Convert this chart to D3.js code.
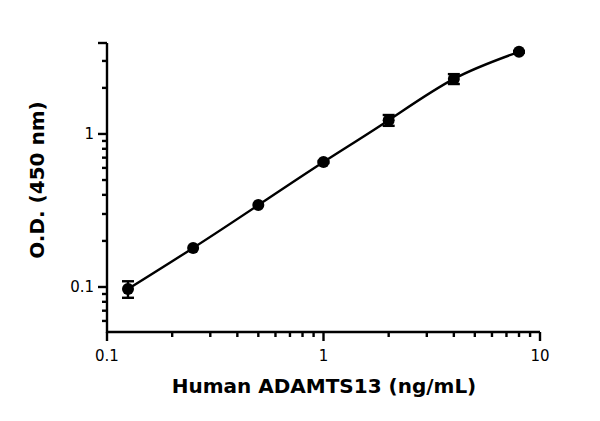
<!DOCTYPE html><html><head><script src="https://cdn.jsdelivr.net/npm/d3@7"></script>
<style>body{margin:0;background:#fff}</style></head><body><svg id="c" width="600" height="421"></svg>
<script>
const conc=[0.125,0.25,0.5,1,2,4,8];
const od=[0.097,0.18,0.343,0.656,1.23,2.29,3.44];
const err=[0.012,0.004,0.006,0.01,0.1,0.17,0.04];
const xTickLabels=[0.1,1,10];
const yTickLabels=[0.1,1];
const svg=d3.select("#c");
const x=d3.scaleLog().domain([0.1,10]).range([107,540]);
const y=d3.scaleLog().domain([0.0508,3.93]).range([332,43]);
const g=svg.append("g").attr("stroke","#000").attr("stroke-width",2.4);
g.append("line").attr("x1",x(0.1)).attr("x2",x(10)).attr("y1",332).attr("y2",332);
g.append("line").attr("x1",107).attr("x2",107).attr("y1",333).attr("y2",43);
const xMinor=[];for(const d of [0.1,1])for(let k=2;k<=9;k++)xMinor.push(d*k);
xMinor.forEach(v=>g.append("line").attr("x1",x(v)).attr("x2",x(v)).attr("y1",332).attr("y2",337));
xTickLabels.forEach(v=>g.append("line").attr("x1",x(v)).attr("x2",x(v)).attr("y1",332).attr("y2",341));
const yMinor=[0.06,0.07,0.08,0.09,0.2,0.3,0.4,0.5,0.6,0.7,0.8,0.9,2,3];
yMinor.forEach(v=>g.append("line").attr("x1",107).attr("x2",102).attr("y1",y(v)).attr("y2",y(v)));
yTickLabels.concat([3.93]).forEach(v=>g.append("line").attr("x1",107).attr("x2",98).attr("y1",y(v)).attr("y2",y(v)));
const fmt=d=>String(d);
xTickLabels.forEach(v=>svg.append("text").attr("x",x(v)).attr("y",361).attr("text-anchor","middle").attr("font-family","DejaVu Sans").attr("font-size",15).text(fmt(v)));
yTickLabels.forEach(v=>svg.append("text").attr("x",94).attr("y",y(v)+5).attr("text-anchor","end").attr("font-family","DejaVu Sans").attr("font-size",15).text(fmt(v)));
svg.append("text").attr("x",324).attr("y",393).attr("text-anchor","middle").attr("font-family","DejaVu Sans").attr("font-weight","bold").attr("font-size",20).text("Human ADAMTS13 (ng/mL)");
svg.append("text").attr("transform","translate(44,180) rotate(-90)").attr("text-anchor","middle").attr("font-family","DejaVu Sans").attr("font-weight","bold").attr("font-size",20).text("O.D. (450 nm)");
const pts=conc.map((c,i)=>[c,od[i]]);
svg.append("path").datum(pts).attr("fill","none").attr("stroke","#000").attr("stroke-width",2.4)
 .attr("d",d3.line().x(d=>x(d[0])).y(d=>y(d[1])).curve(d3.curveNatural));
pts.forEach((d,i)=>{const e=err[i];const y1=y(d[1]+e),y2=y(d[1]-e),cx=x(d[0]);
 g.append("line").attr("x1",cx).attr("x2",cx).attr("y1",y1).attr("y2",y2);
 if(e>0.008){g.append("line").attr("x1",cx-6).attr("x2",cx+6).attr("y1",y1).attr("y2",y1);
 g.append("line").attr("x1",cx-6).attr("x2",cx+6).attr("y1",y2).attr("y2",y2);}});
svg.selectAll("circle.p").data(pts).join("circle").attr("cx",d=>x(d[0])).attr("cy",d=>y(d[1])).attr("r",6).attr("fill","#000");
</script></body></html>
